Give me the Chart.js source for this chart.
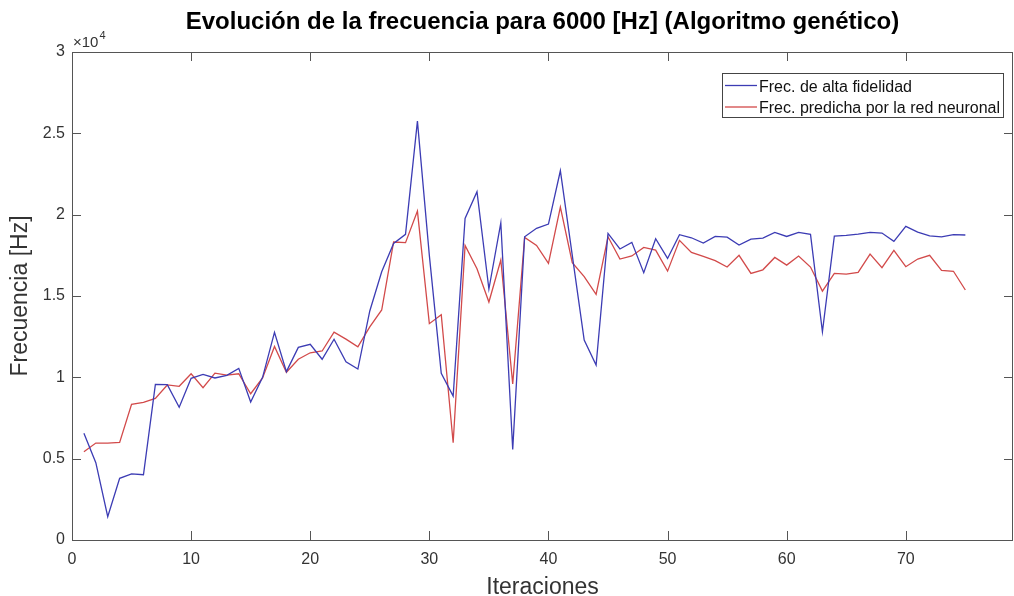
<!DOCTYPE html>
<html>
<head>
<meta charset="utf-8">
<title>Evolución de la frecuencia</title>
<script src="https://cdn.jsdelivr.net/npm/chart.js@4.4.1/dist/chart.umd.min.js"></script>
<style>
  html, body { margin: 0; padding: 0; background: #fff; }
  canvas { display: block; }
</style>
</head>
<body>
<canvas id="freqChart" width="1014" height="596"></canvas>
<script>
//Data
const iterations = [1, 2, 3, 4, 5, 6, 7, 8, 9, 10, 11, 12, 13, 14, 15, 16, 17, 18, 19, 20,
  21, 22, 23, 24, 25, 26, 27, 28, 29, 30, 31, 32, 33, 34, 35, 36, 37, 38, 39, 40,
  41, 42, 43, 44, 45, 46, 47, 48, 49, 50, 51, 52, 53, 54, 55, 56, 57, 58, 59, 60,
  61, 62, 63, 64, 65, 66, 67, 68, 69, 70, 71, 72, 73, 74, 75];

const altaFidelidad = [6560, 4750, 1430, 3790, 4060, 4010, 9570, 9550, 8160, 9940,
  10180, 9960, 10120, 10550, 8480, 10000, 12770, 10350, 11840, 12030,
  11110, 12340, 10960, 10510, 14080, 16490, 18230, 18790, 25750, 17500,
  10250, 8850, 19770, 21410, 15430, 19500, 5570, 18640, 19160, 19420,
  22700, 17500, 12290, 10760, 18850, 17890, 18300, 16430, 18520, 17310,
  18770, 18580, 18250, 18660, 18620, 18130, 18500, 18560, 18910, 18660,
  18910, 18790, 12800, 18680, 18730, 18810, 18910, 18870, 18360, 19280,
  18930, 18700, 18640, 18770, 18750];

const prediccionRed = [5430, 5960, 5960, 6000, 8340, 8460, 8710, 9530, 9450, 10220,
  9360, 10260, 10140, 10220, 8990, 9960, 11900, 10310, 11110, 11510,
  11620, 12780, 12350, 11880, 13100, 14140, 18320, 18280, 20220, 13300,
  13850, 5980, 18110, 16680, 14630, 17210, 9590, 18600, 18110, 17000,
  20470, 17050, 16190, 15100, 18640, 17270, 17460, 17990, 17820, 16530,
  18420, 17680, 17430, 17170, 16780, 17500, 16390, 16610, 17370, 16900,
  17460, 16780, 15300, 16390, 16350, 16450, 17580, 16740, 17810, 16800,
  17270, 17500, 16580, 16520, 15370];

const xTicks = [0, 10, 20, 30, 40, 50, 60, 70];
const yTicks = [0, 5000, 10000, 15000, 20000, 25000, 30000];

const seriesNames = ['Frec. de alta fidelidad', 'Frec. predicha por la red neuronal'];
const chartTitle = 'Evolución de la frecuencia para 6000 [Hz] (Algoritmo genético)';
const xLabel = 'Iteraciones';
const yLabel = 'Frecuencia [Hz]';

//Styles
const FONT = "'Liberation Sans', Arial, Helvetica, sans-serif";
const AXIS_GREY = '#555555';
const TEXT_GREY = '#333333';
const BLUE = '#3c3cb4';
const RED = '#d24a4a';
const TICK_LEN = 9;

const toPoints = (values) => iterations.map((it, i) => ({x: it, y: values[i]}));

//MATLAB-like frame: box, inward ticks, exponent, titles and legend
const matlabFrame = {
  id: 'matlabFrame',
  afterDraw(chart) {
    const {ctx, chartArea: area, scales: {x, y}} = chart;
    ctx.save();

    // box
    ctx.strokeStyle = AXIS_GREY;
    ctx.lineWidth = 1;
    ctx.strokeRect(area.left + 0.5, area.top + 0.5, area.right - area.left - 1, area.bottom - area.top);

    // inward ticks on all four sides
    ctx.beginPath();
    xTicks.forEach(v => {
      const px = Math.round(x.getPixelForValue(v)) + 0.5;
      ctx.moveTo(px, area.bottom);
      ctx.lineTo(px, area.bottom - TICK_LEN);
      ctx.moveTo(px, area.top);
      ctx.lineTo(px, area.top + TICK_LEN);
    });
    yTicks.forEach(v => {
      const py = Math.round(y.getPixelForValue(v)) + 0.5;
      ctx.moveTo(area.left, py);
      ctx.lineTo(area.left + TICK_LEN, py);
      ctx.moveTo(area.right, py);
      ctx.lineTo(area.right - TICK_LEN, py);
    });
    ctx.stroke();

    // x10^4 exponent
    ctx.fillStyle = TEXT_GREY;
    ctx.textAlign = 'left';
    ctx.textBaseline = 'alphabetic';
    ctx.font = '15px ' + FONT;
    ctx.fillText('\u00d710', area.left + 1, area.top - 5);
    const w = ctx.measureText('\u00d710').width;
    ctx.font = '11px ' + FONT;
    ctx.fillText('4', area.left + 1 + w + 1, area.top - 13);

    // titles
    const cx = (area.left + area.right) / 2;
    ctx.fillStyle = '#000';
    ctx.textAlign = 'center';
    ctx.font = 'bold 24px ' + FONT;
    ctx.fillText(chartTitle, cx, 29);

    ctx.fillStyle = TEXT_GREY;
    ctx.font = '23px ' + FONT;
    ctx.fillText(xLabel, cx, 594);

    ctx.save();
    ctx.translate(27, (area.top + area.bottom) / 2);
    ctx.rotate(-Math.PI / 2);
    ctx.fillText(yLabel, 0, 0);
    ctx.restore();

    // legend
    const lx = area.right - 291, ly = area.top + 21, lw = 281, lh = 44;
    ctx.fillStyle = '#fff';
    ctx.fillRect(lx, ly, lw, lh);
    ctx.strokeStyle = '#444';
    ctx.strokeRect(lx + 0.5, ly + 0.5, lw, lh);
    ctx.font = '16px ' + FONT;
    ctx.textAlign = 'left';
    chart.data.datasets.forEach((ds, i) => {
      const rowY = ly + 12.5 + i * 21.5;
      ctx.strokeStyle = ds.borderColor;
      ctx.lineWidth = 1.3;
      ctx.beginPath();
      ctx.moveTo(lx + 3, rowY);
      ctx.lineTo(lx + 35, rowY);
      ctx.stroke();
      ctx.fillStyle = '#111';
      ctx.fillText(ds.label, lx + 37, rowY + 6);
    });

    ctx.restore();
  }
};

const freqChart = new Chart(document.getElementById('freqChart'), {
  type: 'line',
  data: {
    datasets: [
      {
        label: seriesNames[0],
        data: toPoints(altaFidelidad),
        borderColor: BLUE,
        borderWidth: 1.3,
        pointRadius: 0,
        tension: 0,
        fill: false
      },
      {
        label: seriesNames[1],
        data: toPoints(prediccionRed),
        borderColor: RED,
        borderWidth: 1.3,
        pointRadius: 0,
        tension: 0,
        fill: false
      }
    ]
  },
  options: {
    responsive: false,
    animation: false,
    devicePixelRatio: 1,
    layout: { padding: { top: 52, right: 1, bottom: 0, left: 0 } },
    plugins: {
      legend: { display: false },
      tooltip: { enabled: false },
      title: { display: false }
    },
    scales: {
      x: {
        type: 'linear',
        min: 0,
        max: 79,
        grid: { display: false, drawTicks: false },
        border: { display: false },
        afterBuildTicks: (scale) => { scale.ticks = xTicks.map(v => ({value: v})); },
        afterFit: (scale) => { scale.height = 56; },
        ticks: {
          color: TEXT_GREY,
          font: { family: FONT, size: 16 },
          padding: 10,
          maxRotation: 0,
          autoSkip: false
        }
      },
      y: {
        type: 'linear',
        min: 0,
        max: 30000,
        grid: { display: false, drawTicks: false },
        border: { display: false },
        afterBuildTicks: (scale) => { scale.ticks = yTicks.map(v => ({value: v})); },
        afterFit: (scale) => { scale.width = 72; },
        ticks: {
          color: TEXT_GREY,
          font: { family: FONT, size: 16 },
          padding: 7,
          autoSkip: false,
          callback: (v) => String(v / 10000)
        }
      }
    }
  },
  plugins: [matlabFrame]
});
</script>
</body>
</html>
